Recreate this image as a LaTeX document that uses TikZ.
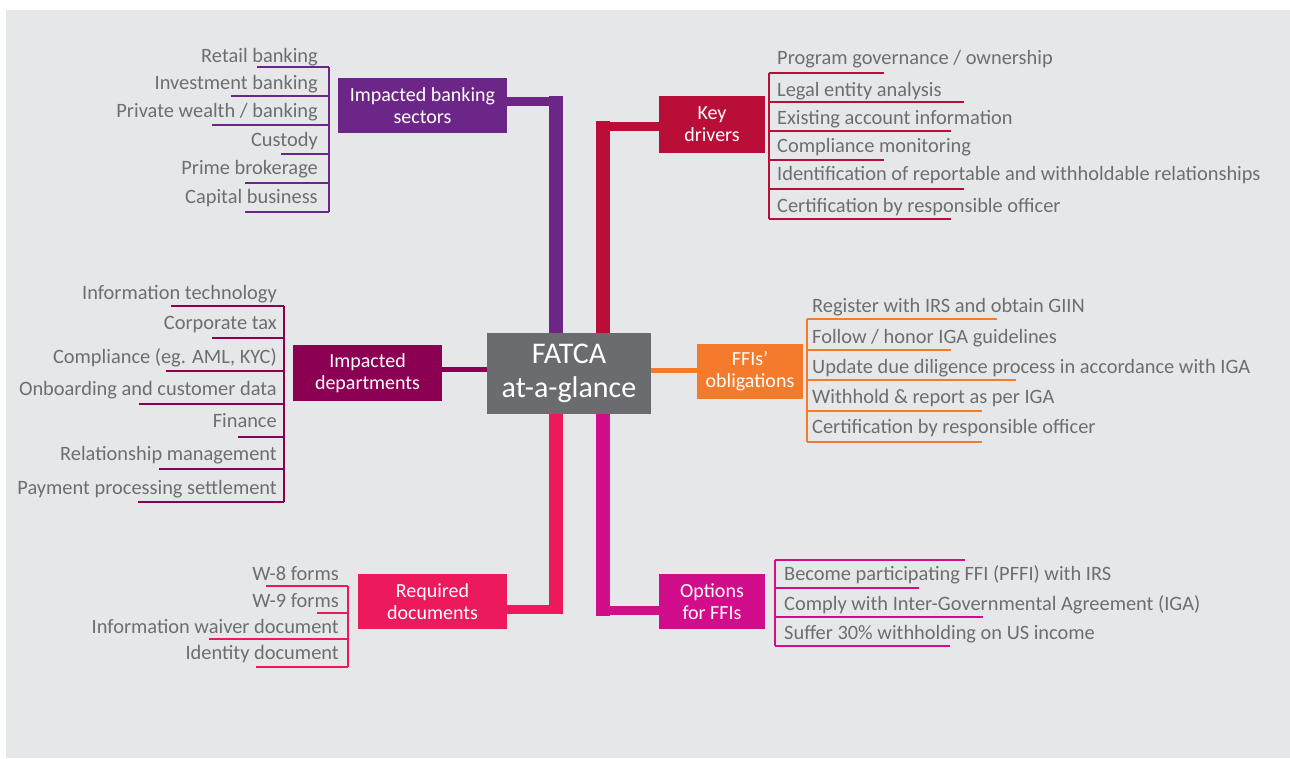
\documentclass[tikz,border=0pt]{standalone}
\usepackage{fontspec}
\setmainfont{Carlito}
\usepackage{xcolor}
\definecolor{bggrey}{HTML}{E6E7E8}
\definecolor{txtgrey}{HTML}{6D6E71}
\definecolor{hubgrey}{HTML}{6B6C6F}
\definecolor{sectpurple}{HTML}{6B2687}
\definecolor{drivred}{HTML}{B90E37}
\definecolor{deptmaroon}{HTML}{8B0052}
\definecolor{oblorange}{HTML}{F47B2B}
\definecolor{docpink}{HTML}{EC1A5D}
\definecolor{optmagenta}{HTML}{D20D8C}
\tikzset{
  branch/.style={fill=#1,text=white,font=\fontsize{20}{22}\selectfont,align=center,inner sep=0pt},
  item/.style={text=txtgrey,font=\fontsize{20.4}{22}\selectfont,inner sep=0pt,text height=14pt,text depth=4pt,yshift=-2pt},
  trunk/.style={line width=14pt},
  twig/.style={line width=9pt},
  wire/.style={line width=5pt},
  rule/.style={line width=1.3pt}
}

\begin{document}
\begin{tikzpicture}[line cap=butt,line join=miter,x=1pt,y=-1pt]
      \useasboundingbox (0,0) rectangle (1290,758);
      \fill[white] (0,0) rectangle (1290,758);
      \fill[bggrey] (6,10) rectangle (1290,758);
      % hub and branch boxes
      \node[fill=hubgrey,text=white,minimum width=164pt,minimum height=81pt,align=center,inner sep=0pt,font=\fontsize{30}{34}\selectfont] (hub) at (569,373.5) {FATCA\\at-a-glance};
      \node[branch=sectpurple,minimum width=169pt,minimum height=55pt] (sectors) at (422.5,105.5) {Impacted banking\\sectors};
      \node[branch=drivred,minimum width=106pt,minimum height=57pt] (drivers) at (712,124.5) {Key\\drivers};
      \node[branch=deptmaroon,minimum width=149pt,minimum height=56pt] (depts) at (367.5,373) {Impacted\\departments};
      \node[branch=oblorange,minimum width=106pt,minimum height=55pt] (oblig) at (750,371.5) {FFIs’\\obligations};
      \node[branch=docpink,minimum width=149pt,minimum height=55pt] (docs) at (432.5,601.5) {Required\\documents};
      \node[branch=optmagenta,minimum width=106pt,minimum height=55pt] (options) at (712,601.5) {Options\\for FFIs};
      % connectors
      \coordinate (sectbend) at (556,96);
      \coordinate (drivbend) at (602.5,121);
      \coordinate (docbend) at (556,614);
      \coordinate (optbend) at (602.5,616);
      \draw[trunk,sectpurple] (sectbend) -- (sectbend |- hub.north);
      \draw[twig,sectpurple] ([yshift=4pt]sectors.east) -- ++(56,0);
      \draw[trunk,drivred] (drivbend) -- (drivbend |- hub.north);
      \draw[twig,drivred] ([yshift=-1.5pt]drivers.west) -- ++(-63,0);
      \draw[wire,deptmaroon] ([yshift=3.5pt]depts.east) -- ++(45,0);
      \draw[wire,oblorange] ([yshift=1pt]oblig.west) -- ++(-46,0);
      \draw[trunk,docpink] (hub.south -| docbend) -- (docbend);
      \draw[twig,docpink] ([yshift=-8pt]docs.east) -- ++(56,0);
      \draw[trunk,optmagenta] (hub.south -| optbend) -- (optbend);
      \draw[twig,optmagenta] ([yshift=-9pt]options.west) -- ++(-63,0);
      % impacted banking sectors
      \foreach \txt/\yc/\yu/\xs [count=\i] in {Retail banking/55/67/257,Investment banking/82/96/231,{Private wealth / banking}/110/125/212,Custody/139/154/281,Prime brokerage/167/183/245,Capital business/196/212/245}
      {
        \node[item,anchor=east] (sect-\i) at (318,\yc) {\txt};
        \draw[rule,sectpurple] (\xs,\yu) -- (329,\yu);
      }
      \draw[rule,sectpurple] (329,67) -- (329,212);
      % key drivers
      \foreach \txt/\yc/\yu/\xe [count=\i] in {{Program governance / ownership}/57/73/884,Legal entity analysis/89/102/964,Existing account information/117/131/951,Compliance monitoring/145/160/884,Identification of reportable and withholdable relationships/173/189/964,Certification by responsible officer/205/219/951}
      {
        \node[item,anchor=west] (driv-\i) at (777,\yc) {\txt};
        \draw[rule,drivred] (769,\yu) -- (\xe,\yu);
      }
      \draw[rule,drivred] (769,73) -- (769,219);
      % impacted departments
      \foreach \txt/\yc/\yu/\xs [count=\i] in {Information technology/292/306/171,Corporate tax/322/338/212,{Compliance (eg. AML, KYC)}/356/371/166,Onboarding and customer data/388/404/139,Finance/420/437/238,Relationship management/453/469/159,Payment processing settlement/487/502/138}
      {
        \node[item,anchor=east] (dept-\i) at (277,\yc) {\txt};
        \draw[rule,deptmaroon] (\xs,\yu) -- (284,\yu);
      }
      \draw[rule,deptmaroon] (284,306) -- (284,502);
      % FFIs' obligations
      \foreach \txt/\yc/\yu/\xe [count=\i] in {Register with IRS and obtain GIIN/305/319/997,{Follow / honor IGA guidelines}/336/350/951,Update due diligence process in accordance with IGA/366/380/1016,Withhold \& report as per IGA/396/411/982,Certification by responsible officer/426/442/982}
      {
        \node[item,anchor=west] (obl-\i) at (812,\yc) {\txt};
        \draw[rule,oblorange] (807,\yu) -- (\xe,\yu);
      }
      \draw[rule,oblorange] (807,319) -- (807,442);
      % required documents
      \foreach \txt/\yc/\yu/\xs [count=\i] in {W-8 forms/573/586/266,W-9 forms/600/613/317,Information waiver document/626/639/209,Identity document/652/667/256}
      {
        \node[item,anchor=east] (doc-\i) at (339,\yc) {\txt};
        \draw[rule,docpink] (\xs,\yu) -- (348,\yu);
      }
      \draw[rule,docpink] (348,586) -- (348,667);
      % options for FFIs
      \foreach \txt/\yc/\yu/\xe [count=\i] in {Become participating FFI (PFFI) with IRS/573/588/919,Comply with Inter-Governmental Agreement (IGA)/603/617/983,Suffer 30\% withholding on US income/632/646/950}
      {
        \node[item,anchor=west] (opt-\i) at (784,\yc) {\txt};
        \draw[rule,optmagenta] (775,\yu) -- (\xe,\yu);
      }
      \draw[rule,optmagenta] (775,560) -- (965,560);
      \draw[rule,optmagenta] (775,560) -- (775,646);
\end{tikzpicture}
\end{document}
